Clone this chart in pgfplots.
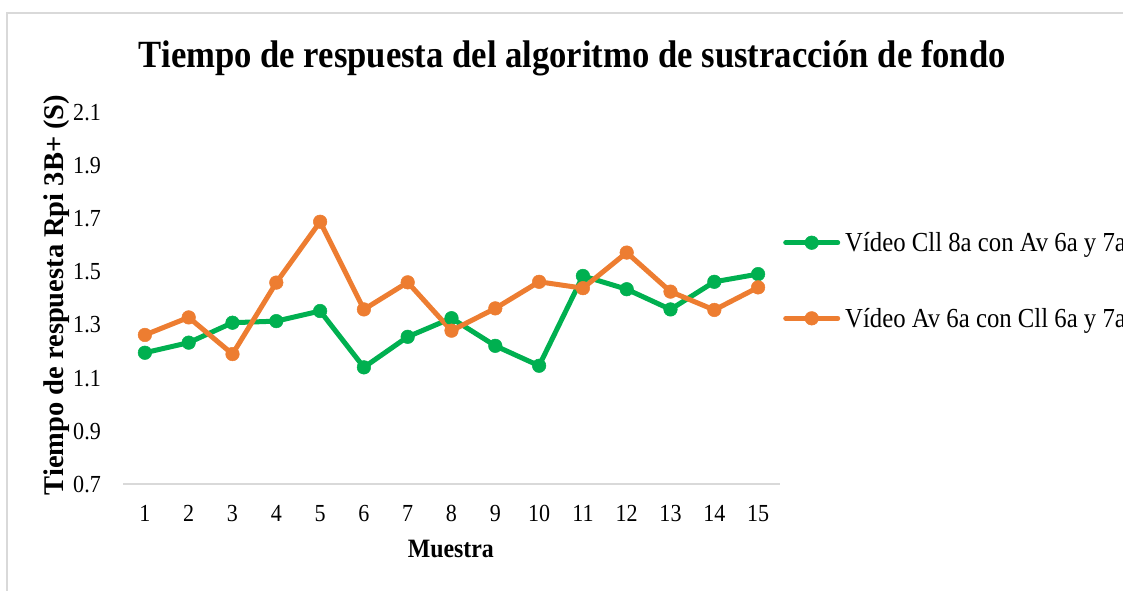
\documentclass[border=0pt]{standalone}
\usepackage{fontspec}
\setmainfont{Liberation Serif}[FakeStretch=0.9]
\newfontfamily\ylfont{Liberation Serif}
\usepackage{pgfplots}
\pgfplotsset{compat=1.18}
\definecolor{cgreen}{HTML}{00B050}
\definecolor{corange}{HTML}{ED7D31}
\definecolor{cgrid}{HTML}{D9D9D9}
\begin{document}
\begin{tikzpicture}[x=1pt,y=1pt]
\useasboundingbox (0,0) rectangle (1123,590);
\clip (0,0) rectangle (1123,590);
\draw[cgrid, line width=1.5pt] (7,-20) -- (7,577) -- (1140,577);
\begin{axis}[
  at={(123pt,106pt)}, anchor=south west,
  scale only axis, width=657pt, height=372pt,
  xmin=0.5, xmax=15.5, ymin=0.7, ymax=2.1,
  xtick={1,2,3,4,5,6,7,8,9,10,11,12,13,14,15},
  ytick={0.7,0.9,1.1,1.3,1.5,1.7,1.9,2.1},
  axis lines*=left,
  y axis line style={draw=none},
  x axis line style={cgrid, line width=1.5pt},
  major tick length=0pt,
  /pgf/number format/assume math mode=true,
  yticklabel style={/pgf/number format/fixed, /pgf/number format/precision=1, /pgf/number format/fixed zerofill, anchor=base east, inner sep=0pt, xshift=-22pt, yshift=-8.3pt, font=\fontsize{24.5}{29}\selectfont},
  xticklabel style={anchor=base, inner sep=0pt, yshift=-37pt, font=\fontsize{24.5}{29}\selectfont},
  title={Tiempo de respuesta del algoritmo de sustracción de fondo},
  title style={at={(axis description cs:0.684,1.104)}, anchor=base, font=\bfseries\fontsize{38.5}{44}\selectfont, inner sep=0pt},
  xlabel={Muestra},
  xlabel style={at={(axis description cs:0.499,-0.175)}, anchor=center, font=\bfseries\fontsize{26.5}{30}\selectfont, inner sep=0pt},
  ylabel={Tiempo de respuesta Rpi 3B+ (S)},
  ylabel style={at={(axis description cs:-0.1005,0.508)}, anchor=center, font=\ylfont\bfseries\fontsize{28.5}{32}\selectfont, inner sep=0pt},
  legend style={at={(axis description cs:1.0046,0.547)}, anchor=west, draw=none, fill=none, inner sep=0pt, column sep=5pt, row sep=55pt, nodes={inner sep=0pt}, font=\fontsize{27.5}{32}\selectfont},
  legend cell align=left,
  legend image code/.code={\draw[#1, line cap=round, mark repeat=2, mark phase=2] plot coordinates {(0pt,0pt) (26pt,0pt) (52pt,0pt)};},
]
\addplot[cgreen, line width=5pt, mark=*, mark size=6.8pt, mark options={solid, line width=0.5pt}] coordinates {
(1,1.194) (2,1.232) (3,1.307) (4,1.313) (5,1.351) (6,1.139) (7,1.254) (8,1.324)
(9,1.220) (10,1.145) (11,1.483) (12,1.433) (13,1.357) (14,1.461) (15,1.490)};
\addlegendentry{Vídeo Cll 8a con Av 6a y 7a}
\addplot[corange, line width=5pt, mark=*, mark size=6.8pt, mark options={solid, line width=0.5pt}] coordinates {
(1,1.261) (2,1.327) (3,1.189) (4,1.458) (5,1.687) (6,1.357) (7,1.459) (8,1.277)
(9,1.361) (10,1.461) (11,1.437) (12,1.571) (13,1.424) (14,1.355) (15,1.440)};
\addlegendentry{Vídeo Av 6a con Cll 6a y 7a}
\end{axis}
\end{tikzpicture}
\end{document}
